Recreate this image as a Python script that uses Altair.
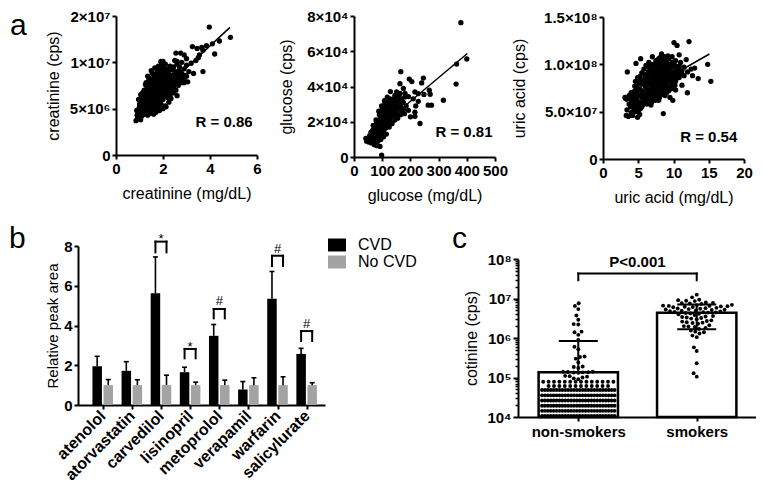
import math
import altair as alt
import pandas as pd

FONT = "Liberation Sans"
W, H = 748, 472

# ---------------- panel a data ----------------
# creatinine: (mg/dL, cps in millions)
a1_points = [
    (0.85, 3.7), (0.95, 3.9), (1.05, 3.8), (0.9, 4.3), (1.0, 4.5), (1.1, 4.2), (1.2, 4.4), (0.95, 4.9),
    (1.05, 5.1), (1.15, 4.8), (1.25, 4.6), (1.3, 5.0), (1.0, 5.5), (1.1, 5.4), (1.2, 5.2), (1.35, 4.3),
    (1.45, 4.5), (1.5, 4.9), (1.6, 4.4), (1.7, 4.6), (1.85, 4.8), (1.4, 5.3), (1.1, 5.9), (1.2, 5.7),
    (1.3, 5.6), (1.45, 5.5), (1.55, 5.3), (1.65, 5.1), (1.75, 5.3), (2.0, 5.0), (2.1, 5.3),
    (1.15, 6.2), (1.25, 6.4), (1.3, 6.0), (1.4, 6.2), (1.5, 5.9), (1.6, 5.8), (1.7, 5.9), (1.8, 5.7),
    (1.9, 5.9), (2.0, 6.0), (2.2, 6.2), (1.35, 6.7), (1.45, 6.6), (1.55, 6.5), (1.65, 6.4), (1.75, 6.3),
    (1.85, 6.5), (1.95, 6.6), (2.05, 6.8), (2.15, 6.6), (2.3, 6.5), (2.45, 6.7),
    (1.3, 7.1), (1.4, 7.2), (1.5, 7.0), (1.6, 7.1), (1.7, 7.0), (1.8, 7.2), (1.9, 7.0), (2.0, 7.3),
    (2.1, 7.2), (2.25, 7.1), (2.4, 7.3), (2.55, 7.0), (1.25, 7.6), (1.45, 7.7), (1.55, 7.5), (1.65, 7.8),
    (1.75, 7.6), (1.85, 7.9), (1.95, 7.7), (2.1, 7.8), (2.2, 7.6), (2.35, 7.9), (2.5, 7.7), (2.65, 7.5),
    (2.8, 7.8), (1.4, 8.2), (1.6, 8.3), (1.7, 8.1), (1.8, 8.5), (2.0, 8.2), (2.15, 8.4), (2.3, 8.3),
    (2.45, 8.5), (2.6, 8.2), (2.75, 8.4), (2.9, 8.2), (3.0, 8.5), (3.05, 7.9), (1.55, 8.8), (1.75, 9.0),
    (1.9, 8.9), (2.05, 9.1), (2.2, 9.0), (2.4, 9.2), (2.55, 9.0), (2.7, 9.1), (2.9, 9.3), (3.1, 9.0),
    (3.3, 8.8), (1.95, 9.7), (2.1, 9.8), (2.3, 9.6), (2.6, 9.8), (2.8, 10.0), (3.0, 9.7), (3.2, 9.9),
    (2.0, 10.1), (2.5, 10.2), (2.6, 10.1), (3.4, 10.2), (3.5, 10.5),
    (2.55, 11.0), (2.75, 11.0), (2.9, 10.8), (3.25, 11.7), (3.45, 11.5), (3.65, 11.6), (3.7, 11.3),
    (3.55, 10.8), (4.1, 12.0), (4.2, 10.9), (3.7, 9.0), (3.97, 13.8), (4.87, 12.7), (4.4, 12.3),
    (3.85, 11.8), (3.0, 10.4), (2.95, 8.6), (2.13, 5.2), (2.34, 6.1), (2.9, 7.8), (2.6, 6.4), (1.9, 6.2),
    (2.25, 5.7), (0.88, 4.8), (0.96, 6.0), (1.13, 6.7), (1.28, 7.8), (1.42, 8.3), (1.91, 10.1),
    (1.99, 9.75), (1.05, 6.5), (1.2, 7.0), (1.35, 8.5), (1.5, 9.1), (1.65, 9.4), (1.8, 9.6),
    (0.92, 4.0), (1.02, 4.1), (1.12, 4.6), (1.22, 4.9), (1.32, 4.7), (1.42, 4.9), (1.52, 4.6), (1.62, 4.9),
    (1.72, 5.0), (1.0, 5.2), (1.12, 5.1), (1.27, 5.3), (1.37, 5.7), (1.52, 5.6), (1.62, 5.5), (1.72, 5.6),
    (1.82, 5.3), (1.92, 5.5), (1.05, 5.8), (1.2, 6.0), (1.35, 6.3), (1.45, 6.0), (1.55, 6.2), (1.65, 6.1),
    (1.75, 6.0), (1.85, 6.2), (1.95, 6.3), (2.1, 6.4), (1.2, 6.7), (1.3, 6.5), (1.4, 6.9), (1.5, 6.8),
    (1.6, 6.7), (1.7, 6.6), (1.8, 6.9), (1.9, 6.8), (2.0, 6.6), (2.2, 6.9), (2.35, 6.8), (1.35, 7.4),
    (1.45, 7.4), (1.55, 7.3), (1.65, 7.4), (1.75, 7.3), (1.85, 7.4), (1.95, 7.4), (2.05, 7.5), (2.15, 7.4),
    (2.3, 7.5), (2.45, 7.4), (1.5, 7.9), (1.6, 8.0), (1.7, 7.8), (1.8, 7.9), (1.9, 8.1), (2.0, 7.9),
    (2.1, 8.1), (2.25, 8.0), (2.4, 8.0), (2.55, 7.9), (2.7, 8.0), (1.65, 8.6), (1.85, 8.7), (1.95, 8.5),
    (2.1, 8.7), (2.25, 8.7), (2.35, 8.6), (2.5, 8.8), (2.65, 8.7), (2.8, 8.8), (1.85, 9.3), (2.0, 9.4),
    (2.15, 9.3), (2.3, 9.2), (2.45, 9.5), (2.7, 9.5),
]
a1_fit_x = [0.85, 4.85]
a1_fit_y = [4.37e6, 13.77e6]
a1_yticks = [0, 5e6, 1e7, 1.5e7]
a1_ylabels = ["0", "5×10⁶", "1×10⁷", "2×10⁷"]

# glucose: (mg/dL, cps in thousands)
a2_points = [
    (45, 9), (52, 8.5), (42, 10.5), (58, 10), (62, 12), (65, 9.5), (70, 11), (72, 13.5), (75, 15.5),
    (78, 12), (80, 10), (82, 17), (85, 14), (88, 12), (90, 15.5), (92, 19), (95, 16.5), (98, 13),
    (100, 21), (102, 18), (105, 15), (108, 23), (110, 19.5), (112, 16.5), (115, 25), (118, 22), (120, 19),
    (122, 27), (125, 24), (128, 21), (130, 29), (132, 26), (135, 23), (138, 28.5), (140, 25), (145, 27),
    (148, 30), (150, 24), (155, 28), (160, 32), (165, 29), (170, 26), (175, 31),
    (85, 20), (95, 22), (100, 25), (105, 27), (110, 29), (115, 28), (120, 31), (125, 30), (90, 24),
    (80, 18.5), (70, 16), (60, 14), (68, 18), (78, 21), (88, 26), (98, 29), (108, 32), (118, 34),
    (128, 33), (135, 31), (140, 33), (145, 35), (150, 33), (155, 31), (160, 35), (168, 33), (180, 34),
    (185, 29), (62, 8), (75, 8.5), (85, 9), (95, 10), (105, 11.5), (115, 13), (125, 17), (135, 19),
    (145, 21), (155, 22), (165, 24), (175, 27), (72, 7), (80, 6.5), (92, 6.0), (98, 1.1),
    (166, 48.4), (205, 42.8), (196, 44.2), (246, 44.8), (163, 41.6), (129, 37.1), (240, 42), (267, 37.9),
    (270, 35.6), (263, 29.4), (275, 29.4), (317, 32.2), (362, 41.4), (364, 52.7), (400, 55.6),
    (379, 76.2), (216, 23.1), (234, 19.0), (219, 29), (228, 31.6), (210, 33), (193, 34.3), (181, 36.1),
    (163, 36.1), (151, 37), (175, 38.9), (228, 36), (248, 35.5), (216, 36.9), (193, 26.5), (200, 22.8),
    (179, 24.6), (216, 25.4),
    (50, 10.5), (55, 12), (60, 11), (65, 13), (68, 10.5), (72, 12.5), (75, 11), (78, 14), (80, 13),
    (82, 11.5), (85, 16), (88, 14), (90, 13), (92, 17), (95, 15), (98, 18), (100, 16), (102, 14),
    (105, 20), (108, 17), (110, 22), (112, 19), (115, 21), (118, 18), (120, 24), (122, 21), (125, 22),
    (128, 25), (130, 23), (132, 28), (135, 26), (138, 24), (140, 29), (142, 27), (145, 25), (150, 28),
    (152, 26), (158, 30), (162, 28), (75, 17), (80, 20), (85, 18), (90, 21), (95, 19), (100, 23),
    (105, 24), (110, 26), (115, 27), (120, 26), (125, 28), (70, 13), (65, 15), (58, 12), (100, 27),
    (110, 31), (120, 29), (130, 31), (140, 30), (150, 31),
]
a2_fit_x = [45, 402]
a2_fit_y = [10.8e3, 58.7e3]
a2_yticks = [0, 2e4, 4e4, 6e4, 8e4]
a2_ylabels = ["0", "2×10⁴", "4×10⁴", "6×10⁴", "8×10⁴"]

# uric acid: (mg/dL, cps in millions)
a3_points = [
    (3.3, 46), (3.6, 45), (4.2, 46), (4.9, 44), (3.4, 52), (3.9, 55), (4.4, 52), (3.2, 64), (4.1, 60),
    (4.6, 58), (5.0, 50), (5.3, 53), (3.7, 67), (4.3, 66), (4.8, 63), (5.2, 60), (5.6, 57), (4.0, 70),
    (4.5, 72), (5.0, 68), (5.5, 65), (5.9, 62), (6.2, 58), (4.7, 76), (5.2, 74), (5.7, 70), (6.1, 67),
    (6.5, 64), (6.9, 60), (5.0, 80), (5.5, 79), (6.0, 76), (6.4, 73), (6.8, 70), (7.2, 67), (7.6, 64),
    (5.8, 84), (6.3, 82), (6.7, 79), (7.1, 76), (7.5, 73), (7.9, 70), (8.3, 68), (6.1, 89), (6.6, 87),
    (7.0, 85), (7.4, 82), (7.8, 79), (8.2, 76), (8.6, 73), (9.0, 70), (6.8, 93), (7.2, 91), (7.6, 88),
    (8.0, 86), (8.4, 83), (8.8, 80), (9.2, 77), (9.6, 74), (7.4, 97), (7.8, 95), (8.2, 92), (8.6, 90),
    (9.0, 87), (9.4, 84), (9.8, 81), (10.2, 78), (8.0, 101), (8.4, 99), (8.8, 97), (9.2, 94), (9.6, 91),
    (10.0, 88), (10.4, 85), (8.6, 105), (9.0, 103), (9.5, 100), (10.0, 97), (10.5, 93), (11.0, 90),
    (8.2, 108), (7.5, 104), (6.5, 97), (5.8, 95), (5.2, 87), (4.6, 82), (7.0, 108), (9.8, 108),
    (10.3, 104), (11.0, 102), (11.5, 97), (10.8, 98), (8.3, 111),
    (10.07, 123), (10.5, 120), (12.2, 124), (14.85, 100), (15.3, 82), (13.5, 85), (11.97, 70), (8.56, 48),
    (3.45, 92), (4.68, 101), (5.34, 106), (3.12, 65), (12.0, 92), (11.5, 88), (12.5, 95), (11.2, 78),
    (10.3, 73), (9.9, 62), (13.0, 96), (11.8, 105), (12.7, 88), (9.5, 65), (7.9, 62), (6.8, 57),
    (9.2, 109), (10.8, 110),
    (4.0, 49), (4.6, 50), (5.2, 47), (3.7, 58), (4.3, 56), (4.9, 55), (5.5, 55), (3.9, 63), (4.5, 62),
    (5.1, 57), (5.8, 60), (6.4, 60), (4.2, 68), (4.8, 70), (5.3, 67), (5.9, 66), (6.4, 69), (6.9, 65),
    (7.4, 62), (4.5, 77), (5.0, 74), (5.5, 72), (6.0, 71), (6.6, 68), (7.1, 70), (7.7, 67), (8.0, 65),
    (5.3, 83), (5.9, 80), (6.4, 78), (6.9, 74), (7.3, 71), (7.8, 74), (8.4, 71), (8.8, 67), (5.6, 90),
    (6.0, 86), (6.5, 84), (7.0, 81), (7.4, 78), (7.9, 76), (8.4, 79), (8.9, 76), (9.3, 72), (6.4, 92),
    (7.0, 89), (7.4, 86), (7.9, 84), (8.3, 81), (8.7, 78), (9.2, 82), (9.7, 78), (10.0, 75), (7.1, 95),
    (7.6, 92), (8.0, 90), (8.5, 87), (8.9, 85), (9.4, 88), (9.8, 85), (10.3, 82), (7.8, 99), (8.3, 96),
    (8.7, 94), (9.1, 91), (9.5, 96), (10.0, 92), (10.4, 89), (10.8, 86), (8.3, 103), (8.8, 101),
    (9.3, 98), (9.8, 102), (10.2, 99), (10.7, 95), (11.2, 93), (8.7, 108), (9.3, 106), (7.9, 106),
    (6.9, 100), (6.1, 99), (5.5, 91), (4.9, 86), (7.6, 100), (6.5, 102), (7.2, 100),
]
a3_fit_x = [3.2, 15.1]
a3_fit_y = [60.3e6, 110.9e6]
a3_yticks = [0, 5e7, 1e8, 1.5e8]
a3_ylabels = ["0", "5.0×10⁷", "1.0×10⁸", "1.5×10⁸"]

# ---------------- panel b data ----------------
drugs = ["atenolol", "atorvastatin", "carvedilol", "lisinopril", "metoprolol", "verapamil", "warfarin", "salicylurate"]
cvd_mean = [1.95, 1.72, 5.62, 1.65, 3.48, 0.78, 5.35, 2.57]
cvd_upper = [2.45, 2.18, 7.45, 1.90, 4.05, 1.18, 6.72, 2.85]
nocvd_mean = [1.0, 1.0, 1.0, 1.0, 1.0, 1.0, 1.0, 1.0]
nocvd_upper = [1.28, 1.27, 1.50, 1.15, 1.25, 1.37, 1.42, 1.12]
sig_index = [2, 3, 4, 6, 7]
sig_symbol = ["*", "*", "#", "#", "#"]
sig_top = [8.22, 2.82, 4.83, 7.51, 3.72]
sig_bottom = [7.68, 2.35, 4.36, 6.99, 3.22]
sig_text_y = [8.13, 2.72, 5.03, 7.63, 3.89]

# ---------------- panel c data ----------------
c_groups = ["non-smokers", "smokers"]
c_mean = [1.36e5, 4.37e6]
c_sd_upper = [8.4e5, 7.1e6]
c_sd_lower_smokers = 1.66e6
nonsmoker_values = [7.6e6, 6.5e6, 5.4e6, 3.7e6, 2.9e6, 2.25e6, 2.2e6, 1.45e6, 1.4e6, 1.2e6, 8.9e5, 6.0e5,
                    5.2e5, 3.4e5, 3.3e5, 3.0e5, 2.4e5, 1.9e5, 1.85e5, 1.75e5, 1.4e5, 1.4e5, 1.38e5, 1.36e5,
                    1.35e5, 1.34e5, 1.32e5, 1.1e5, 1.08e5, 1.05e5, 1.0e5, 9.5e4, 9.0e4]
nonsmoker_row_values = [7.83e4, 6.1e4, 4.83e4, 3.54e4, 2.62e4, 1.93e4, 1.43e4, 1.06e4]
nonsmoker_row_counts = [14, 12, 26, 26, 26, 26, 26, 26]
smoker_values = [12.5e6, 10.7e6, 9.3e6, 9.0e6, 8.8e6, 8.6e6, 7.9e6, 7.7e6, 7.6e6, 7.5e6, 7.3e6,
                 6.9e6, 6.8e6, 6.6e6, 6.5e6, 6.5e6, 6.4e6, 6.3e6, 6.2e6, 6.1e6, 6.0e6,
                 5.8e6, 5.7e6, 5.6e6, 5.5e6, 5.4e6, 5.3e6, 5.2e6, 5.1e6, 5.0e6, 4.9e6, 4.8e6,
                 4.7e6, 4.6e6, 4.5e6, 4.45e6, 4.4e6, 4.3e6, 4.2e6, 4.1e6, 4.0e6,
                 3.8e6, 3.6e6, 3.5e6, 3.4e6, 3.3e6, 3.2e6, 3.1e6, 3.0e6,
                 2.8e6, 2.7e6, 2.6e6, 2.5e6, 2.45e6, 2.4e6, 2.3e6,
                 2.1e6, 2.0e6, 1.95e6, 1.9e6, 1.8e6, 1.7e6,
                 1.55e6, 1.45e6, 1.4e6, 1.3e6, 1.15e6, 1.05e6,
                 5.8e5, 4.7e5, 2.3e5, 1.28e5, 1.05e5]
c_yticks_major = [10 ** k for k in range(4, 9)]
c_ylabels = ["10⁴", "10⁵", "10⁶", "10⁷", "10⁸"]


def label_expr(values, labels):
    return "".join(f"datum.value == {v!r} ? '{l}' : " for v, l in zip(values, labels)) + "''"


def txt(**kw):
    base = dict(font=FONT, color="black")
    base.update(kw)
    return base


# ---------------- scatter panels ----------------
def scatter_panel(points, yunit, fit_x, fit_y, r_label, r_pos, xdom, xr, xticks, ydom, yr, yticks, ylabels,
                  xtitle, ytitle, ytitle_x):
    df = pd.DataFrame({"x": [p[0] for p in points], "y": [p[1] * yunit for p in points]})
    fit = pd.DataFrame({"x": fit_x, "y": fit_y})
    rdf = pd.DataFrame({"x": [r_pos[0]], "y": [r_pos[1]], "t": [r_label]})
    xs = alt.Scale(domain=xdom, range=xr, nice=False, zero=False)
    ys = alt.Scale(domain=ydom, range=yr, nice=False, zero=False)
    xax = alt.Axis(orient="bottom", offset=yr[0] - H, values=xticks, title=xtitle, titlePadding=9)
    yax = alt.Axis(orient="left", offset=-xr[0], values=yticks, labelExpr=label_expr(yticks, ylabels),
                   title=ytitle, titleX=ytitle_x)
    X = alt.X("x:Q", scale=xs, axis=xax)
    Y = alt.Y("y:Q", scale=ys, axis=yax)
    pts = alt.Chart(df).mark_circle(size=28, color="black", opacity=1).encode(x=X, y=Y)
    line = alt.Chart(fit).mark_line(color="black", strokeWidth=1.5).encode(x=X, y=Y)
    rt = alt.Chart(rdf).mark_text(**txt(fontSize=15, fontWeight="bold", align="center", baseline="alphabetic")).encode(
        x=X, y=Y, text="t:N")
    return alt.layer(pts, line, rt)


a1 = scatter_panel(a1_points, 1e6, a1_fit_x, a1_fit_y, "R = 0.86", (4.6, 3.0e6), [0, 6], [108, 249], [0, 2, 4, 6],
                   [0, 1.5e7], [147, 8], a1_yticks, a1_ylabels, "creatinine (mg/dL)", "creatinine (cps)", -55)
a2 = scatter_panel(a2_points, 1e3, a2_fit_x, a2_fit_y, "R = 0.81", (390, 11.1e3), [0, 500], [346, 487],
                   [0, 100, 200, 300, 400, 500], [0, 8e4], [149, 8], a2_yticks, a2_ylabels,
                   "glucose (mg/dL)", "glucose (cps)", -60)
a3 = scatter_panel(a3_points, 1e6, a3_fit_x, a3_fit_y, "R = 0.54", (15.0, 18.1e6), [0, 20], [595, 736],
                   [0, 5, 10, 15, 20], [0, 1.5e8], [151, 9], a3_yticks, a3_ylabels,
                   "uric acid (mg/dL)", "uric acid (cps)", -76)

# ---------------- panel b ----------------
bar_df = pd.DataFrame({
    "i": list(range(len(drugs))) * 2,
    "group": ["CVD"] * len(drugs) + ["No CVD"] * len(drugs),
    "mean": cvd_mean + nocvd_mean,
    "upper": cvd_upper + nocvd_upper,
})
bx = alt.Scale(domain=[-0.848, 7.63], range=[70, 317], nice=False, zero=False)
by = alt.Scale(domain=[0, 8], range=[397, 238], nice=False, zero=False)
bxax = alt.Axis(orient="bottom", offset=397 - H, values=list(range(len(drugs))),
                labelExpr=label_expr(list(range(len(drugs))), drugs), labelAngle=-45, labelAlign="right",
                labelBaseline="middle", labelPadding=4, labelFontSize=16, title=None)
byax = alt.Axis(orient="left", offset=-70, values=[0, 2, 4, 6, 8], title="Relative peak area",
                titleFontSize=15, titleX=-17.5)


def BX(f):
    return alt.X(f, scale=bx, axis=bxax)


def BY(f):
    return alt.Y(f, scale=by, axis=byax)


bcalc = dict(xc="datum.i + (datum.group == 'CVD' ? -0.19 : 0.19)")
bars = alt.Chart(bar_df).transform_calculate(**bcalc).transform_calculate(
    xl="datum.xc - 0.163", xr="datum.xc + 0.163", base="0").mark_rect().encode(
    x=BX("xl:Q"), x2="xr:Q", y=BY("mean:Q"), y2="base:Q",
    color=alt.Color("group:N", scale=alt.Scale(domain=["CVD", "No CVD"], range=["#000000", "#a3a3a3"]),
                    legend=alt.Legend(orient="none", legendX=320, legendY=228, title=None, labelFont=FONT,
                                      labelFontSize=16, labelColor="black", symbolType="M-1,-0.72H1V0.72H-1Z",
                                      symbolSize=324, symbolStrokeWidth=0, symbolOpacity=1, labelOffset=12,
                                      rowPadding=0)))
berr = alt.Chart(bar_df).transform_calculate(**bcalc).mark_rule(color="black", strokeWidth=1.6).encode(
    x=BX("xc:Q"), y=BY("mean:Q"), y2="upper:Q")
bcap = alt.Chart(bar_df).transform_calculate(**bcalc).mark_tick(
    orient="horizontal", size=5, thickness=1.6, color="black", opacity=1).encode(
    x=BX("xc:Q"), y=BY("upper:Q"))
sig_df = pd.DataFrame({"i": sig_index, "sym": sig_symbol, "top": sig_top, "bottom": sig_bottom, "ty": sig_text_y})
sig_base = alt.Chart(sig_df).transform_calculate(l="datum.i - 0.19", r="datum.i + 0.19")
br_h = sig_base.mark_rule(color="black", strokeWidth=2, strokeCap="square").encode(
    x=BX("l:Q"), x2="r:Q", y=BY("top:Q"))
br_l = sig_base.mark_rule(color="black", strokeWidth=2, strokeCap="square").encode(
    x=BX("l:Q"), y=BY("bottom:Q"), y2="top:Q")
br_r = sig_base.mark_rule(color="black", strokeWidth=2, strokeCap="square").encode(
    x=BX("r:Q"), y=BY("bottom:Q"), y2="top:Q")
br_t = alt.Chart(sig_df).mark_text(**txt(fontSize=13, align="center", baseline="alphabetic")).encode(
    x=BX("i:Q"), y=BY("ty:Q"), text="sym:N")
panel_b = alt.layer(bars, berr, bcap, br_h, br_l, br_r, br_t)

# ---------------- panel c ----------------
CX0, CX1, CDOM = 510, 749, [-0.509, 1.509]
CY0, CY1 = 409, 251
PX_DEC = (CY0 - CY1) / 4.0
PX_UNIT = (CX1 - CX0) / (CDOM[1] - CDOM[0])


def swarm_offsets(values, diam):
    ys = [math.log10(v) * PX_DEC for v in values]
    order = sorted(range(len(values)), key=lambda k: ys[k])
    placed, offs = [], [0.0] * len(values)
    for k in order:
        y = ys[k]
        near = [(px, py) for (px, py) in placed if abs(py - y) < diam]
        cands = [0.0]
        for px, py in near:
            dx = math.sqrt(diam * diam - (py - y) ** 2)
            cands += [px + dx, px - dx]
        cands.sort(key=lambda c: (abs(c), c))
        for cnd in cands:
            if all((cnd - px) ** 2 + (y - py) ** 2 >= diam * diam - 1e-6 for px, py in near):
                offs[k] = cnd
                break
        placed.append((offs[k], y))
    return offs


dots = []
for gi, vals in ((0, nonsmoker_values), (1, smoker_values)):
    for v, o in zip(vals, swarm_offsets(vals, 4.6)):
        dots.append({"x": gi + o / PX_UNIT, "y": v})
for v, n in zip(nonsmoker_row_values, nonsmoker_row_counts):
    sp = 5.4 if n < 15 else 2.9
    for k in range(n):
        dots.append({"x": (k - (n - 1) / 2.0) * sp / PX_UNIT, "y": v})
dots_df = pd.DataFrame(dots)

c_df = pd.DataFrame({"i": [0, 1], "g": c_groups, "mean": c_mean, "upper": c_sd_upper})


def c_scales():
    return (alt.Scale(domain=CDOM, range=[CX0, CX1], nice=False, zero=False),
            alt.Scale(type="log", domain=[1e4, 1e8], range=[CY0, CY1], nice=False))


c_minor_ticks = [m * 10 ** k for k in range(4, 8) for m in range(2, 10)]
cxax = alt.Axis(orient="bottom", offset=CY0 - H, values=[0, 1], labelExpr=label_expr([0, 1], c_groups),
                title=None, labelPadding=3)
cyax = alt.Axis(orient="left", offset=-CX0, values=c_yticks_major,
                labelExpr=label_expr(c_yticks_major, c_ylabels), tickSize=5,
                title="cotinine (cps)", titleX=-39)
cyax_minor = alt.Axis(orient="left", offset=-CX0, values=c_minor_ticks, labels=False, domain=False,
                      tickSize=3, tickWidth=1.5, title=None)

# bars (with the main axes)
cx1, cy1 = c_scales()
c_bars = alt.Chart(c_df).transform_calculate(l="datum.i - 0.335", r="datum.i + 0.335", base="10000").mark_rect(
    fill="white", stroke="black", strokeWidth=2.5).encode(
    x=alt.X("l:Q", scale=cx1, axis=cxax), x2="r:Q", y=alt.Y("mean:Q", scale=cy1, axis=cyax), y2="base:Q")

# dots (with the minor ticks of the log axis)
cx2, cy2 = c_scales()
c_dots = alt.Chart(dots_df).mark_circle(size=15, color="black", opacity=1).encode(
    x=alt.X("x:Q", scale=cx2, axis=None), y=alt.Y("y:Q", scale=cy2, axis=cyax_minor))

# error bars, bracket and p value on top
cx3, cy3 = c_scales()


def CXf(f):
    return alt.X(f, scale=cx3, axis=None)


def CYf(f):
    return alt.Y(f, scale=cy3, axis=None)


c_err_df = pd.DataFrame({"i": [0, 1], "lo": [c_mean[0], c_sd_lower_smokers], "hi": c_sd_upper})
c_err = alt.Chart(c_err_df).mark_rule(color="black", strokeWidth=2).encode(
    x=CXf("i:Q"), y=CYf("lo:Q"), y2="hi:Q")
c_cap_df = pd.DataFrame({"i": [0, 1, 1], "v": [c_sd_upper[0], c_sd_upper[1], c_sd_lower_smokers]})
c_cap = alt.Chart(c_cap_df).mark_tick(orient="horizontal", size=39, thickness=2, color="black", opacity=1).encode(
    x=CXf("i:Q"), y=CYf("v:Q"))
p_df = pd.DataFrame({"a": [0], "b": [1], "top": [4.3e7], "bot": [2.9e7], "tx": [0.5], "ty": [6.2e7],
                     "t": ["P<0.001"]})
p_h = alt.Chart(p_df).mark_rule(color="black", strokeWidth=2, strokeCap="square").encode(
    x=CXf("a:Q"), x2="b:Q", y=CYf("top:Q"))
p_l = alt.Chart(p_df).mark_rule(color="black", strokeWidth=2, strokeCap="square").encode(
    x=CXf("a:Q"), y=CYf("bot:Q"), y2="top:Q")
p_r = alt.Chart(p_df).mark_rule(color="black", strokeWidth=2, strokeCap="square").encode(
    x=CXf("b:Q"), y=CYf("bot:Q"), y2="top:Q")
p_t = alt.Chart(p_df).mark_text(**txt(fontSize=15, fontWeight="bold", align="center", baseline="alphabetic")).encode(
    x=CXf("tx:Q"), y=CYf("ty:Q"), text="t:N")
c_top = alt.layer(c_err, c_cap, p_h, p_l, p_r, p_t)


# ---------------- panel letters ----------------
def letter(t, x, y):
    return alt.Chart(pd.DataFrame({"t": [t]})).mark_text(
        **txt(fontSize=30, align="left", baseline="alphabetic")).encode(
        x=alt.value(x), y=alt.value(y), text="t:N")


chart = alt.layer(
    a1, a2, a3, panel_b, c_bars, c_dots, c_top,
    letter("a", 2, 27), letter("b", 1, 240), letter("c", 444, 240)
).resolve_scale(
    x="independent", y="independent"
).properties(
    width=W, height=H, autosize=alt.AutoSizeParams(type="none"), padding=0
).configure_view(
    stroke=None
).configure_axis(
    domainColor="black", domainWidth=2, tickColor="black", tickWidth=2, tickSize=4,
    labelFont=FONT, labelFontSize=15, labelFontWeight="bold", labelColor="black", labelPadding=2,
    titleFont=FONT, titleFontSize=16, titleFontWeight="normal", titleColor="black",
    grid=False, labelFlush=False, labelOverlap=False
)

chart.save("out.html", embed_options={"renderer": "svg", "actions": False})
